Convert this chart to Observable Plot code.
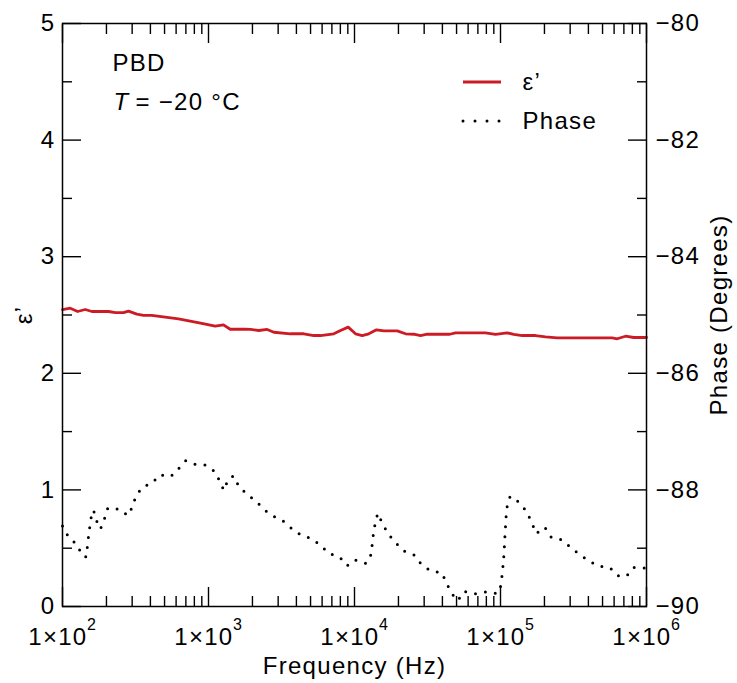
<!DOCTYPE html>
<html><head><meta charset="utf-8">
<script src="https://cdn.jsdelivr.net/npm/d3@7"></script>
<script src="https://cdn.jsdelivr.net/npm/@observablehq/plot@0.6"></script>
<style>
body{margin:0;background:#fff;}
#chart{width:737px;height:683px;}
#chart svg text{letter-spacing:1.3px;}
</style></head><body><div id="chart"></div>
<script>
// ε' (left axis) vs frequency
const epsFreq = [100, 113, 127, 143, 159, 207, 230, 262, 283, 323, 359, 409, 623, 882, 1111, 1267, 1408, 1784, 1940, 2211, 2524, 2802, 3645, 4495, 5263, 5849, 7215, 8021, 9055, 10160, 11290, 12530, 14150, 15880, 19610, 22350, 25480, 28320, 31480, 44950, 49180, 78960, 92430, 111100, 123300, 140800, 173700, 203300, 244600, 382200, 582300, 630000, 718100, 818600, 1000000];
const epsValue = [2.547, 2.558, 2.530, 2.547, 2.530, 2.530, 2.520, 2.520, 2.533, 2.507, 2.496, 2.496, 2.466, 2.431, 2.404, 2.416, 2.378, 2.378, 2.376, 2.367, 2.376, 2.352, 2.339, 2.339, 2.324, 2.324, 2.339, 2.367, 2.396, 2.339, 2.324, 2.339, 2.373, 2.364, 2.364, 2.339, 2.335, 2.324, 2.335, 2.335, 2.347, 2.347, 2.333, 2.347, 2.333, 2.324, 2.324, 2.313, 2.304, 2.304, 2.304, 2.296, 2.318, 2.307, 2.307];
// Phase (right axis, degrees) vs frequency
const phaseFreq = [100, 110.5, 126.1, 136.5, 145.3, 148.4, 151.4, 155.5, 159.7, 166.4, 173.6, 182.1, 194.0, 204.3, 245.7, 280.2, 300.2, 317.8, 353.1, 408.9, 463.9, 551.8, 616.3, 695.8, 793.1, 943.4, 1099, 1195, 1273, 1364, 1484, 1613, 1841, 2133, 2407, 2775, 3265, 3745, 4335, 5051, 5878, 6668, 7895, 8913, 10050, 12030, 12870, 13220, 13490, 13930, 14440, 15550, 17100, 19180, 21900, 25760, 28770, 33320, 39630, 42670, 46390, 51010, 56410, 67090, 79830, 94930, 101100, 102700, 104800, 106000, 107000, 108200, 109400, 111700, 116500, 135600, 150700, 163100, 175600, 201100, 222500, 265900, 303000, 349300, 405100, 471300, 560600, 636000, 729400, 814800, 973600, 1000000];
const phaseValue = [-88.62, -88.82, -88.94, -89.13, -89.15, -88.95, -88.75, -88.55, -88.35, -88.39, -88.58, -88.67, -88.49, -88.31, -88.33, -88.44, -88.30, -88.11, -87.95, -87.89, -87.74, -87.77, -87.65, -87.50, -87.56, -87.57, -87.68, -87.85, -88.01, -87.82, -87.76, -87.94, -88.08, -88.20, -88.34, -88.45, -88.54, -88.67, -88.78, -88.83, -88.95, -89.09, -89.15, -89.30, -89.20, -89.26, -89.14, -88.94, -88.74, -88.54, -88.40, -88.58, -88.76, -88.91, -89.05, -89.12, -89.28, -89.39, -89.42, -89.60, -89.78, -89.90, -89.74, -89.78, -89.75, -89.78, -89.63, -89.43, -89.23, -89.03, -88.83, -88.63, -88.43, -88.23, -88.11, -88.22, -88.37, -88.55, -88.75, -88.64, -88.81, -88.86, -88.99, -89.11, -89.22, -89.31, -89.33, -89.47, -89.48, -89.33, -89.34, -89.34];

// Axis ticks & labels
const decadeTicks = [100, 1000, 10000, 100000, 1000000];
const decadeExponents = ["2", "3", "4", "5", "6"];
const epsTicks = [0, 1, 2, 3, 4, 5];
const epsMinorTicks = [0.5, 1.5, 2.5, 3.5, 4.5];
const phaseTicks = [-90, -88, -86, -84, -82, -80];
const phaseMinorTicks = [-89, -87, -85, -83, -81];
const phaseDomain = [-90, -80];
const epsDomain = [0, 5];
const seriesLabels = ["ε’", "Phase"];
const sampleLabel = "PBD";
const tempSymbol = "T";
const tempLabel = "= −20 °C";
const xTitle = "Frequency (Hz)";
const yTitle = "ε’";
const y2Title = "Phase (Degrees)";

const RED = "#cc1b25";
const FONT = "'Liberation Sans', Arial, Helvetica, sans-serif";

const eps = epsFreq.map((f, i) => ({f, v: epsValue[i]}));
const phase = phaseFreq.map((f, i) => ({f, p: phaseValue[i]}));
// map phase onto the left (ε') scale and back
const toLeft = p => epsDomain[0] + (p - phaseDomain[0]) * (epsDomain[1] - epsDomain[0]) / (phaseDomain[1] - phaseDomain[0]);
const toPhase = v => phaseDomain[0] + (v - epsDomain[0]) * (phaseDomain[1] - phaseDomain[0]) / (epsDomain[1] - epsDomain[0]);
const minus = v => (v < 0 ? "\u2212" + Math.abs(v) : String(v));

const xMinor = [];
for (let e = 2; e < 6; e++) for (let m = 2; m <= 9; m++) xMinor.push(m * Math.pow(10, e));

const FS = 24;
const TW = 1.4;
const plot = Plot.plot({
  width: 737, height: 683,
  marginLeft: 62, marginRight: 91, marginTop: 23, marginBottom: 77,
  style: {fontFamily: FONT, fontSize: FS + "px", color: "#000", background: "#fff", overflow: "visible", letterSpacing: "1.3px"},
  x: {type: "log", domain: [100, 1000000]},
  y: {domain: epsDomain},
  marks: [
    // left axis
    Plot.axisY(epsTicks, {anchor: "left", tickSize: -19, tickPadding: 26, tickFormat: d => String(d), label: null, strokeWidth: TW, fontSize: FS}),
    Plot.axisY(epsMinorTicks, {anchor: "left", tickSize: -10, tickFormat: () => "", label: null, strokeWidth: TW}),
    // right axis (phase)
    Plot.axisY(phaseTicks.map(toLeft), {anchor: "right", tickSize: -19, tickPadding: 28, tickFormat: d => minus(Math.round(toPhase(d))), label: null, strokeWidth: TW, fontSize: FS}),
    Plot.axisY(phaseMinorTicks.map(toLeft), {anchor: "right", tickSize: -10, tickFormat: () => "", label: null, strokeWidth: TW}),
    // x axis ticks bottom & top
    Plot.axisX(decadeTicks, {anchor: "bottom", tickSize: -19, tickFormat: () => "", label: null, strokeWidth: TW}),
    Plot.axisX(xMinor, {anchor: "bottom", tickSize: -10, tickFormat: () => "", label: null, strokeWidth: TW}),
    Plot.axisX(decadeTicks, {anchor: "top", tickSize: -19, tickFormat: () => "", label: null, strokeWidth: TW}),
    Plot.axisX(xMinor, {anchor: "top", tickSize: -10, tickFormat: () => "", label: null, strokeWidth: TW}),
    // x tick labels 1×10^n
    Plot.text(decadeTicks, {x: d => d, frameAnchor: "bottom", lineAnchor: "middle", dy: 31, dx: 25, text: () => "1×10", textAnchor: "end", fontSize: FS}),
    Plot.text(decadeTicks, {x: d => d, frameAnchor: "bottom", lineAnchor: "middle", dy: 18, dx: 24.5, text: (d, i) => decadeExponents[i], textAnchor: "start", fontSize: 16}),
    // axis titles
    Plot.text([xTitle], {frameAnchor: "bottom", lineAnchor: "middle", textAnchor: "middle", dy: 60, text: d => d, fontSize: FS}),
    Plot.text([yTitle], {frameAnchor: "left", lineAnchor: "middle", textAnchor: "middle", dx: -38.5, rotate: -90, text: d => d, fontSize: FS}),
    Plot.text([y2Title], {frameAnchor: "right", lineAnchor: "middle", textAnchor: "middle", dx: 73, rotate: -90, text: d => d, fontSize: FS}),
    // data
    Plot.line(phase, {x: "f", y: d => toLeft(d.p), stroke: "#000", strokeWidth: 3, strokeDasharray: "0 10", strokeLinecap: "round"}),
    Plot.line(eps, {x: "f", y: "v", stroke: RED, strokeWidth: 2.8}),
    // annotations
    Plot.text([sampleLabel], {frameAnchor: "top-left", lineAnchor: "middle", dx: 50, dy: 40, text: d => d, textAnchor: "start", fontSize: FS}),
    Plot.text([tempSymbol], {frameAnchor: "top-left", lineAnchor: "middle", dx: 51, dy: 79, text: d => d, textAnchor: "start", fontSize: FS, fontStyle: "italic"}),
    Plot.text([tempLabel], {frameAnchor: "top-left", lineAnchor: "middle", dx: 73, dy: 79, text: d => d, textAnchor: "start", fontSize: FS}),
    // legend labels
    Plot.text([seriesLabels[0]], {frameAnchor: "top-left", lineAnchor: "middle", dx: 460, dy: 59, text: d => d, textAnchor: "start", fontSize: FS}),
    Plot.text([seriesLabels[1]], {frameAnchor: "top-left", lineAnchor: "middle", dx: 460, dy: 98, text: d => d, textAnchor: "start", fontSize: FS}),
    Plot.frame({stroke: "#000", strokeWidth: 1.5})
  ]
});

document.getElementById("chart").appendChild(plot);

// legend swatches
const svg = d3.select(plot);
const lg = svg.append("g");
lg.append("line").attr("x1", 463).attr("x2", 501).attr("y1", 82).attr("y2", 82)
  .attr("stroke", RED).attr("stroke-width", 2.8);
lg.append("line").attr("x1", 463).attr("x2", 502).attr("y1", 121).attr("y2", 121)
  .attr("stroke", "#000").attr("stroke-width", 3).attr("stroke-dasharray", "0 12").attr("stroke-linecap", "round");
</script></body></html>
